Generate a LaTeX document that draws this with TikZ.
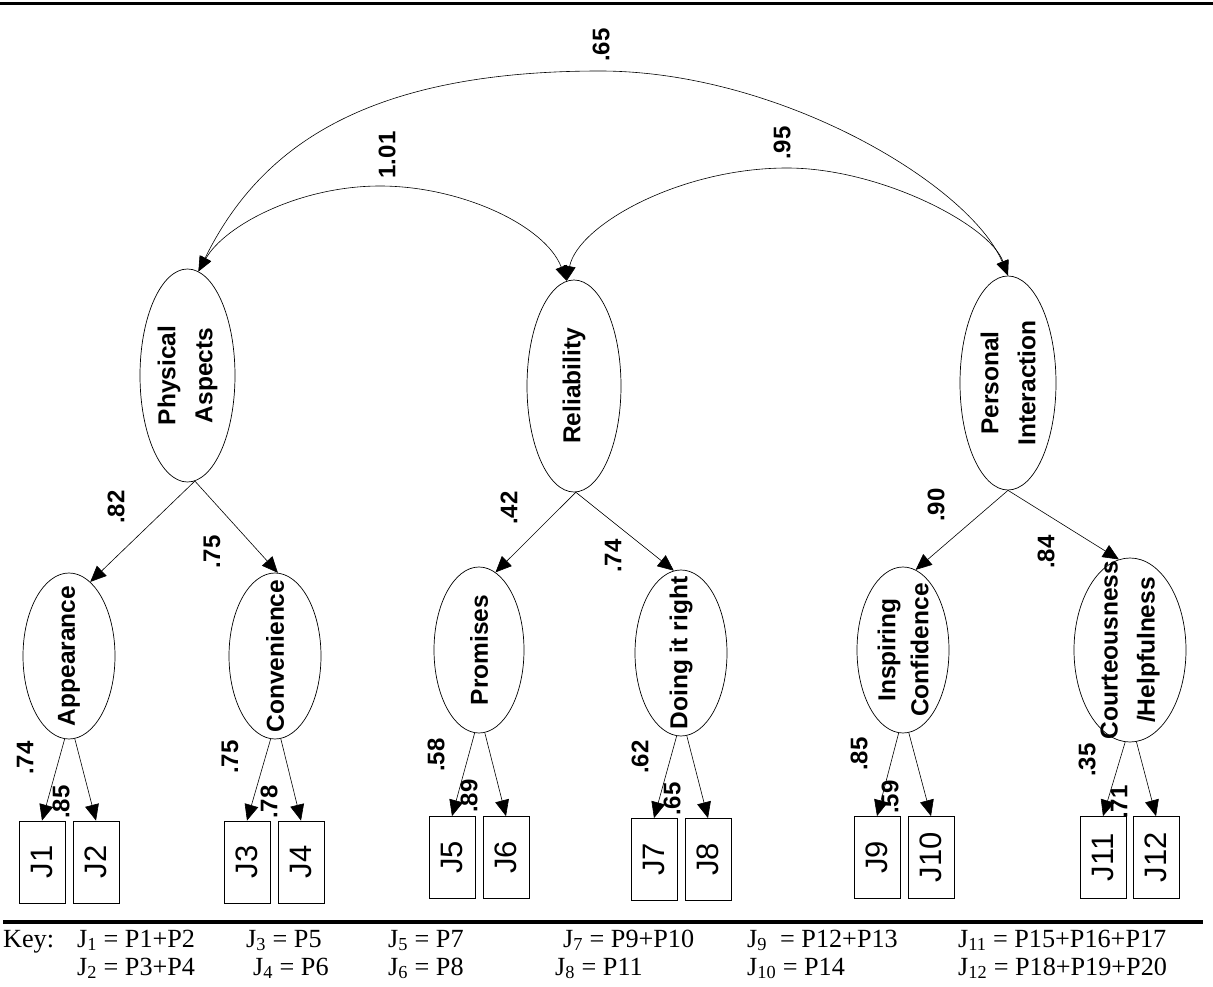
\documentclass[tikz,border=0pt]{standalone}
\usepackage{fontspec}
\setmainfont{Liberation Serif}
\newfontfamily\arialf{Liberation Sans}
\usetikzlibrary{shapes.geometric,arrows.meta}
\tikzset{
  lat/.style={ellipse, draw, line width=0.7pt, inner sep=0pt},
  obs/.style={draw, rectangle, line width=0.8pt, minimum width=46pt, minimum height=82pt, inner sep=0pt,
    font=\arialf\fontsize{31}{33}\selectfont},
  lbl/.style={rotate=90, align=center, inner sep=0pt,
    font=\arialf\bfseries\fontsize{24.5}{37}\selectfont},
  num/.style={rotate=90, inner sep=0pt, font=\arialf\bfseries\fontsize{24}{26}\selectfont},
  arr/.style={-{Triangle[length=16pt,width=14pt]}, line width=0.6pt},
  cov/.style={{Triangle[length=15pt,width=12pt]}-{Triangle[length=15pt,width=12pt]}, line width=0.6pt},
  keyt/.style={anchor=base west, inner sep=0pt, font=\fontsize{26.2}{28}\selectfont},
}
\begin{document}
\begin{tikzpicture}[x=1pt,y=1pt]
\useasboundingbox (0,0) rectangle (1213,-987);
% rules
\coordinate (rt1) at (0,-4);
\coordinate (rt2) at (1213,-4);
\coordinate (rb1) at (3,-922);
\coordinate (rb2) at (1203,-922);
\draw[line width=3pt] (rt1) -- (rt2);
\draw[line width=3.3pt] (rb1) -- (rb2);

% top-level latent factors
\node[lat, minimum width=95pt, minimum height=213pt] (pa) at (187.5,-375.5) {};
\node[lat, minimum width=94pt, minimum height=212pt] (rel) at (574,-386) {};
\node[lat, minimum width=96pt, minimum height=214pt] (pi) at (1008,-383) {};
\node[lbl] (pa-t) at (pa) {Physical\\Aspects};
\node[lbl] (rel-t) at (rel) {Reliability};
\node[lbl] (pi-t) at (pi) {Personal\\Interaction};

% second-level factors
\node[lat, minimum width=92pt, minimum height=166pt] (app) at (69,-656) {};
\node[lat, minimum width=92pt, minimum height=166pt] (con) at (275,-656) {};
\node[lat, minimum width=90pt, minimum height=166pt] (pro) at (479,-650) {};
\node[lat, minimum width=92pt, minimum height=166pt] (doi) at (681,-653) {};
\node[lat, minimum width=92pt, minimum height=166pt] (ins) at (903,-650) {};
\node[lat, minimum width=112pt, minimum height=184pt] (cou) at (1130,-650) {};
\node[lbl] (app-t) at (app) {Appearance};
\node[lbl] (con-t) at (con) {Convenience};
\node[lbl] (pro-t) at (pro) {Promises};
\node[lbl] (doi-t) at (doi) {Doing it right};
\node[lbl, font=\arialf\bfseries\fontsize{24.5}{33}\selectfont] (ins-t) at (ins) {Inspiring\\Confidence};
\node[lbl] (cou-t) at (cou) {Courteousness\\/Helpfulness};

% observed indicators
\node[obs] (j1) at (42,-862) {\rotatebox{90}{J1}};
\node[obs] (j2) at (96,-862) {\rotatebox{90}{J2}};
\node[obs] (j3) at (247,-862) {\rotatebox{90}{J3}};
\node[obs] (j4) at (301,-862) {\rotatebox{90}{J4}};
\node[obs] (j5) at (452,-857.5) {\rotatebox{90}{J5}};
\node[obs] (j6) at (506,-857.5) {\rotatebox{90}{J6}};
\node[obs] (j7) at (654,-859.5) {\rotatebox{90}{J7}};
\node[obs] (j8) at (708,-859.5) {\rotatebox{90}{J8}};
\node[obs] (j9) at (877,-857.5) {\rotatebox{90}{J9}};
\node[obs] (j10) at (931,-857.5) {\rotatebox{90}{J10}};
\node[obs] (j11) at (1103,-857.5) {\rotatebox{90}{J11}};
\node[obs] (j12) at (1156,-857.5) {\rotatebox{90}{J12}};

% loadings level 1 -> 2
\draw[arr] (pa.-86) -- (app.74);
\draw[arr] (pa.-86) -- (con.88);
\draw[arr] (rel.-89) -- (pro.78);
\draw[arr] (rel.-89) -- (doi.95);
\draw[arr] (pi.-90) -- (ins.81);
\draw[arr] (pi.-90) -- (cou.97);

% loadings level 2 -> 3
\draw[arr] (app.-93.5) -- (j1.north);
\draw[arr] (app.-86.5) -- (j2.north);
\draw[arr] (con.-93.5) -- (j3.north);
\draw[arr] (con.-86.5) -- (j4.north);
\draw[arr] (pro.-93.5) -- (j5.north);
\draw[arr] (pro.-86.5) -- (j6.north);
\draw[arr] (doi.-93.5) -- (j7.north);
\draw[arr] (doi.-86.5) -- (j8.north);
\draw[arr] (ins.-93.5) -- (j9.north);
\draw[arr] (ins.-86.5) -- (j10.north);
\draw[arr] (cou.-93.5) -- (j11.north);
\draw[arr] (cou.-86.5) -- (j12.north);

% covariances
\coordinate (p65) at (600,-71);
\coordinate (p101) at (380,-186);
\coordinate (p95) at (787,-168);
\draw[cov] (pa.84) .. controls (258,-151) and (360,-71) .. (p65)
  .. controls (780,-71) and (970,-185) .. (pi.north);
\draw[cov] (pa.84) .. controls (225,-225) and (300,-186) .. (p101)
  .. controls (460,-186) and (545,-225) .. (rel.94);
\draw[cov] (rel.94) .. controls (578,-225) and (680,-168) .. (p95)
  .. controls (880,-168) and (990,-225) .. (pi.north);

% coefficient labels
\node[num] (l65) at (601,-45) {.65};
\node[num] (l101) at (387,-155) {1.01};
\node[num] (l95) at (782,-143) {.95};
\node[num] (l82) at (116,-507) {.82};
\node[num] (l75a) at (212,-552) {.75};
\node[num] (l42) at (509,-508) {.42};
\node[num] (l74a) at (613,-556) {.74};
\node[num] (l90) at (936,-505) {.90};
\node[num] (l84) at (1046,-552) {.84};
\node[num] (l74b) at (25,-758) {.74};
\node[num] (l85a) at (61,-802) {.85};
\node[num] (l75b) at (230,-757) {.75};
\node[num] (l78) at (269,-802) {.78};
\node[num] (l58) at (436,-755) {.58};
\node[num] (l89) at (469,-796) {.89};
\node[num] (l62) at (640,-757) {.62};
\node[num] (l65b) at (672,-799) {.65};
\node[num] (l85b) at (859,-754) {.85};
\node[num] (l59) at (890,-797) {.59};
\node[num] (l35) at (1087,-760) {.35};
\node[num] (l71) at (1119,-802) {.71};

% key
\node[keyt] (k0) at (3,-947) {Key:};
\node[keyt] (k1) at (77,-947) {J\textsubscript{1} = P1+P2};
\node[keyt] (k3) at (246,-947) {J\textsubscript{3} = P5};
\node[keyt] (k5) at (388,-947) {J\textsubscript{5} = P7};
\node[keyt] (k7) at (563,-947) {J\textsubscript{7} = P9+P10};
\node[keyt] (k9) at (747,-947) {J\textsubscript{9}\ \ = P12+P13};
\node[keyt] (k11) at (958,-947) {J\textsubscript{11} = P15+P16+P17};
\node[keyt] (k2) at (77,-975) {J\textsubscript{2} = P3+P4};
\node[keyt] (k4) at (253,-975) {J\textsubscript{4} = P6};
\node[keyt] (k6) at (388,-975) {J\textsubscript{6} = P8};
\node[keyt] (k8) at (555,-975) {J\textsubscript{8} = P11};
\node[keyt] (k10) at (747,-975) {J\textsubscript{10} = P14};
\node[keyt] (k12) at (958,-975) {J\textsubscript{12} = P18+P19+P20};
\end{tikzpicture}
\end{document}
